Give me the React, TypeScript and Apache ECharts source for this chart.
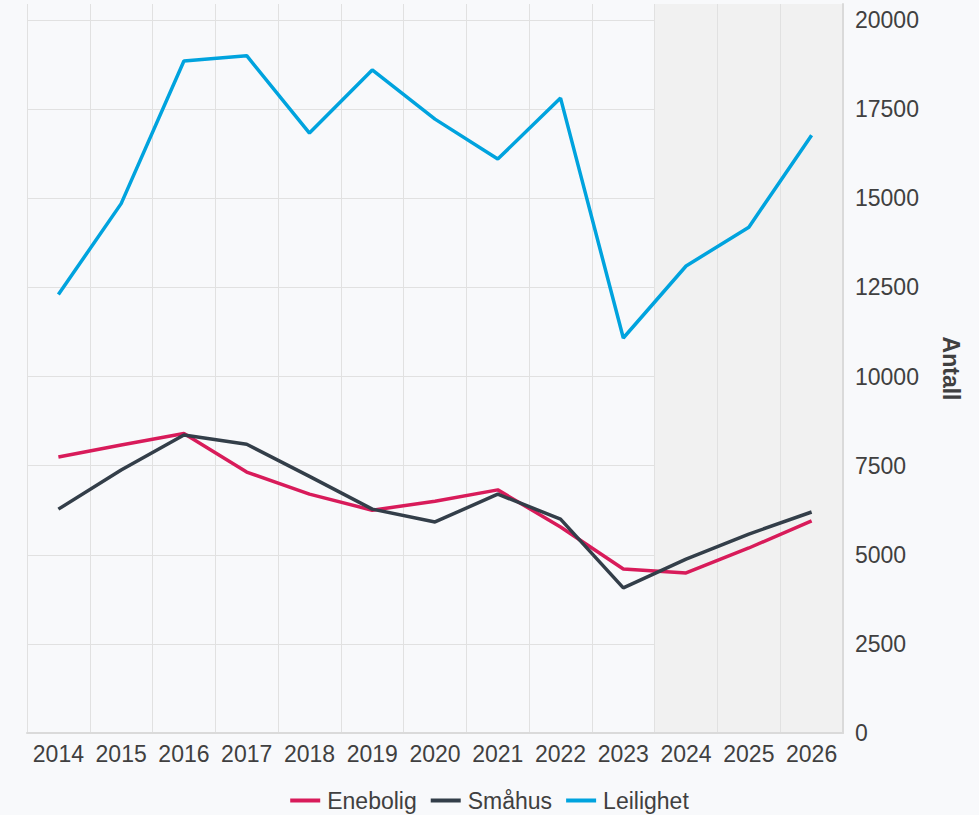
import React, { useEffect, useRef } from "react";
import * as echarts from "echarts";

const years = ["2014","2015","2016","2017","2018","2019","2020","2021","2022","2023","2024","2025","2026"];
const enebolig = [7740, 8080, 8400, 7320, 6700, 6250, 6500, 6820, 5780, 4600, 4490, 5190, 5950];
const smahus = [6280, 7380, 8360, 8100, 7200, 6280, 5920, 6700, 6000, 4070, 4880, 5580, 6200];
const leilighet = [12300, 14850, 18850, 19000, 16830, 18600, 17220, 16100, 17810, 11080, 13100, 14190, 16770];
const forecastFrom = 10; // index of first forecast year (2024)

const FONT = "'Liberation Sans', Arial, Helvetica, sans-serif";
const TEXT = "#404040";
const GRIDC = "#e1e1e1";
const FS = 23;

export default function App() {
  const ref = useRef<HTMLDivElement>(null);
  useEffect(() => {
    if (!ref.current) return;
    const chart = echarts.init(ref.current, null, { renderer: "svg" });
    const areaColors = years.map((_, i) => (i >= forecastFrom ? "#f1f1f1" : "rgba(0,0,0,0)"));
    const yLineColors = [GRIDC, GRIDC, GRIDC, GRIDC, GRIDC, GRIDC, GRIDC, GRIDC, GRIDC, "rgba(0,0,0,0)"];
    chart.setOption({
      animation: false,
      backgroundColor: "#f8f9fb",
      textStyle: { fontFamily: FONT },
      grid: { left: 27, right: 136, top: 4, bottom: 82 },
      legend: {
        left: "center",
        top: 784,
        icon: "rect",
        itemWidth: 30,
        itemHeight: 4,
        itemGap: 14,
        textStyle: { fontSize: FS, color: TEXT, fontFamily: FONT, padding: [0, 0, 0, 2] },
        data: ["Enebolig", "Småhus", "Leilighet"],
      },
      xAxis: {
        type: "category",
        data: years,
        boundaryGap: true,
        axisLine: { show: true, lineStyle: { color: "#dadada", width: 2 } },
        axisTick: { show: false, interval: 0 },
        axisLabel: { interval: 0, fontSize: FS, color: TEXT, margin: 9, fontFamily: FONT },
        splitLine: { show: true, interval: 0, lineStyle: { color: GRIDC, width: 1 } },
        splitArea: { show: true, interval: 0, areaStyle: { color: areaColors } },
      },
      yAxis: {
        type: "value",
        position: "right",
        min: 0,
        max: 20450,
        interval: 2500,
        name: "Antall",
        nameLocation: "middle",
        nameRotate: -90,
        nameGap: 96,
        nameTextStyle: { fontSize: FS, fontWeight: "bold", color: TEXT, fontFamily: FONT },
        axisLine: { show: true, lineStyle: { color: "#dadada", width: 2 } },
        axisTick: { show: false },
        axisLabel: {
          fontSize: FS,
          color: TEXT,
          margin: 12,
          fontFamily: FONT,
          formatter: (v: number) => (v % 2500 === 0 ? String(v) : ""),
        },
        splitLine: { show: true, lineStyle: { color: yLineColors, width: 1 } },
      },
      series: [
        { name: "Enebolig", type: "line", data: enebolig, symbol: "none", lineStyle: { width: 3.5, color: "#d81b5a" }, itemStyle: { color: "#d81b5a" }, z: 3 },
        { name: "Småhus", type: "line", data: smahus, symbol: "none", lineStyle: { width: 3.5, color: "#333e49" }, itemStyle: { color: "#333e49" }, z: 4 },
        { name: "Leilighet", type: "line", data: leilighet, symbol: "none", lineStyle: { width: 3.5, color: "#00a3de" }, itemStyle: { color: "#00a3de" }, z: 5 },
      ],
    });
    return () => chart.dispose();
  }, []);
  return <div ref={ref} style={{ position: "fixed", left: 0, top: 0, width: 979, height: 815 }} />;
}
